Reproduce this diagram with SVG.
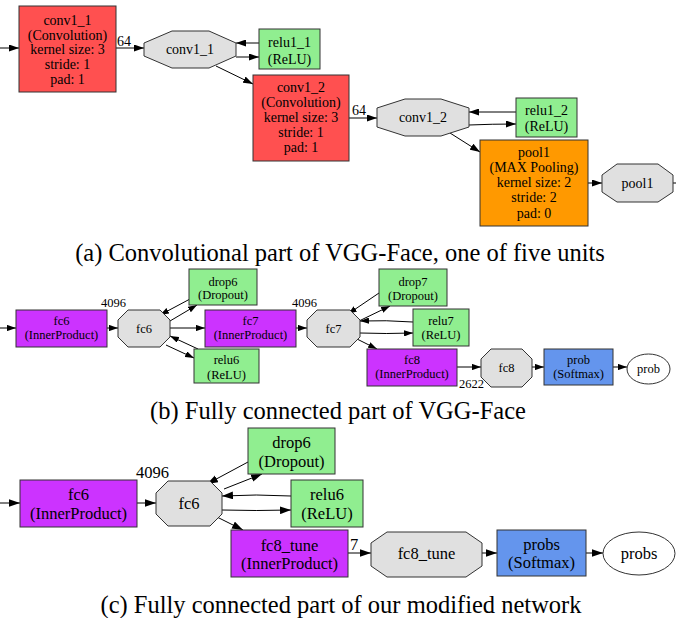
<svg xmlns="http://www.w3.org/2000/svg" width="676" height="618" viewBox="0 0 676 618" font-family="'Liberation Serif', Tinos, 'Times New Roman', Times, 'DejaVu Serif', serif">
  <style>
    text { font-family: 'Liberation Serif', Tinos, 'Times New Roman', Times, 'DejaVu Serif', serif; fill: #000; text-anchor: middle; }
    .ta { font-size: 14px; }
    .tb { font-size: 12.5px; }
    .tc { font-size: 16.5px; }
    .cap { font-size: 24.5px; }
    .lbl { text-anchor: start; }
    .node { stroke: #333; stroke-width: 1; }
    .conv { fill: #ff5050; }
    .relu { fill: #90ee90; }
    .pool { fill: #ff9900; }
    .ip { fill: #cc33ff; }
    .blob { fill: #e0e0e0; }
    .soft { fill: #6495ed; }
    .out { fill: #fff; }
    .ea line, .ea path { stroke: #000; stroke-width: 1; fill: none; marker-end: url(#ha); }
    .eb line, .eb path { stroke: #000; stroke-width: 1; fill: none; marker-end: url(#hb); }
    .ec line, .ec path { stroke: #000; stroke-width: 1; fill: none; marker-end: url(#hc); }
  </style>
  <defs>
    <marker id="ha" viewBox="0 0 10 7" refX="10" refY="3.5" markerWidth="10" markerHeight="7" orient="auto" markerUnits="userSpaceOnUse"><path d="M0,0 L10,3.5 L0,7 z" fill="#000"/></marker>
    <marker id="hb" viewBox="0 0 10 7" refX="10" refY="3.5" markerWidth="9" markerHeight="6.3" orient="auto" markerUnits="userSpaceOnUse"><path d="M0,0 L10,3.5 L0,7 z" fill="#000"/></marker>
    <marker id="hc" viewBox="0 0 10 7" refX="10" refY="3.5" markerWidth="11" markerHeight="8" orient="auto" markerUnits="userSpaceOnUse"><path d="M0,0 L10,3.5 L0,7 z" fill="#000"/></marker>
  </defs>

  <!-- (a) convolutional unit -->
  <g id="a-edges" class="ea">
    <line x1="0" y1="48" x2="19" y2="48"/>
    <line x1="116" y1="48" x2="144" y2="48"/>
    <line x1="259" y1="43" x2="236" y2="43"/>
    <line x1="236" y1="57" x2="259" y2="57"/>
    <line x1="216" y1="66" x2="253" y2="84"/>
    <line x1="349" y1="118" x2="377" y2="118"/>
    <line x1="516" y1="112" x2="469" y2="112"/>
    <path d="M469,125 Q492,124 516,124"/>
    <line x1="450" y1="133" x2="480" y2="152"/>
    <line x1="588" y1="183" x2="602" y2="183"/>
    <path d="M673,183 L676,183" style="marker-end:none"/>
  </g>
  <g id="a-edge-labels" class="ta">
    <text class="lbl" x="117" y="46">64</text>
    <text class="lbl" x="352" y="115">64</text>
  </g>
  <g id="a-conv1_1" class="ta">
    <rect class="node conv" x="19" y="6" width="97" height="86"/>
    <text x="67.5" y="25">conv1_1</text>
    <text x="67.5" y="40">(Convolution)</text>
    <text x="67.5" y="54">kernel size: 3</text>
    <text x="67.5" y="69">stride: 1</text>
    <text x="67.5" y="84">pad: 1</text>
  </g>
  <g id="a-conv1_1-blob" class="ta">
    <polygon class="node blob" points="172,31 209,31 236,43 236,56 209,68 172,68 144,56 144,43"/>
    <text x="190" y="54">conv1_1</text>
  </g>
  <g id="a-relu1_1" class="ta">
    <rect class="node relu" x="259" y="29" width="61" height="40"/>
    <text x="289.5" y="47">relu1_1</text>
    <text x="289.5" y="64">(ReLU)</text>
  </g>
  <g id="a-conv1_2" class="ta">
    <rect class="node conv" x="253" y="75" width="96" height="86"/>
    <text x="301" y="92">conv1_2</text>
    <text x="301" y="107">(Convolution)</text>
    <text x="301" y="122">kernel size: 3</text>
    <text x="301" y="137">stride: 1</text>
    <text x="301" y="152">pad: 1</text>
  </g>
  <g id="a-conv1_2-blob" class="ta">
    <polygon class="node blob" points="405,99 441,99 469,108 469,127 441,136 405,136 377,127 377,108"/>
    <text x="423" y="122">conv1_2</text>
  </g>
  <g id="a-relu1_2" class="ta">
    <rect class="node relu" x="516" y="98" width="61" height="39"/>
    <text x="546.5" y="115">relu1_2</text>
    <text x="546.5" y="131">(ReLU)</text>
  </g>
  <g id="a-pool1" class="ta">
    <rect class="node pool" x="480" y="140" width="108" height="86"/>
    <text x="534" y="157">pool1</text>
    <text x="534" y="172">(MAX Pooling)</text>
    <text x="534" y="187">kernel size: 2</text>
    <text x="534" y="202">stride: 2</text>
    <text x="534" y="218">pad: 0</text>
  </g>
  <g id="a-pool1-blob" class="ta">
    <polygon class="node blob" points="617,164 658,164 673,175 673,192 658,202 617,202 602,192 602,175"/>
    <text x="637.5" y="188">pool1</text>
  </g>
  <text class="cap" x="340" y="261">(a) Convolutional part of VGG-Face, one of five units</text>

  <!-- (b) fully connected part -->
  <g id="b-edges" class="eb">
    <line x1="0" y1="328" x2="16" y2="328"/>
    <line x1="107" y1="328" x2="118" y2="328"/>
    <line x1="190" y1="299" x2="160" y2="315"/>
    <line x1="170" y1="321" x2="197" y2="305"/>
    <line x1="170" y1="328" x2="205" y2="328"/>
    <line x1="198" y1="349" x2="170" y2="336"/>
    <line x1="166" y1="345" x2="194" y2="358"/>
    <line x1="296" y1="328" x2="307" y2="328"/>
    <line x1="379" y1="293" x2="348" y2="314"/>
    <line x1="359" y1="321" x2="390" y2="306"/>
    <path d="M413,322 Q386,320 360,321"/>
    <path d="M360,333 Q386,334 413,333"/>
    <line x1="355" y1="338" x2="377" y2="349"/>
    <line x1="457" y1="367" x2="481" y2="367"/>
    <line x1="532" y1="367" x2="544" y2="367"/>
    <line x1="613" y1="367" x2="627" y2="367"/>
  </g>
  <g id="b-edge-labels" class="tb">
    <text class="lbl" x="101" y="307">4096</text>
    <text class="lbl" x="292" y="307">4096</text>
    <text class="lbl" x="459" y="388">2622</text>
  </g>
  <g id="b-fc6" class="tb">
    <rect class="node ip" x="16" y="310" width="91" height="37"/>
    <text x="61.5" y="325">fc6</text>
    <text x="61.5" y="339">(InnerProduct)</text>
  </g>
  <g id="b-fc6-blob" class="tb">
    <polygon class="node blob" points="128,310 160,310 170,320 170,337 160,347 128,347 118,337 118,320"/>
    <text x="144" y="333">fc6</text>
  </g>
  <g id="b-drop6" class="tb">
    <rect class="node relu" x="189" y="269" width="68" height="36"/>
    <text x="223" y="286">drop6</text>
    <text x="223" y="299">(Dropout)</text>
  </g>
  <g id="b-relu6" class="tb">
    <rect class="node relu" x="194" y="349" width="65" height="34"/>
    <text x="226.5" y="364">relu6</text>
    <text x="226.5" y="379">(ReLU)</text>
  </g>
  <g id="b-fc7" class="tb">
    <rect class="node ip" x="205" y="310" width="91" height="37"/>
    <text x="250.5" y="325">fc7</text>
    <text x="250.5" y="339">(InnerProduct)</text>
  </g>
  <g id="b-fc7-blob" class="tb">
    <polygon class="node blob" points="317,310 350,310 360,320 360,337 350,347 317,347 307,337 307,320"/>
    <text x="333.5" y="333">fc7</text>
  </g>
  <g id="b-drop7" class="tb">
    <rect class="node relu" x="379" y="269" width="68" height="37"/>
    <text x="413" y="286">drop7</text>
    <text x="413" y="300">(Dropout)</text>
  </g>
  <g id="b-relu7" class="tb">
    <rect class="node relu" x="413" y="309" width="56" height="37"/>
    <text x="441" y="325">relu7</text>
    <text x="441" y="339">(ReLU)</text>
  </g>
  <g id="b-fc8" class="tb">
    <rect class="node ip" x="367" y="349" width="90" height="37"/>
    <text x="412" y="364">fc8</text>
    <text x="412" y="378">(InnerProduct)</text>
  </g>
  <g id="b-fc8-blob" class="tb">
    <polygon class="node blob" points="491,349 522,349 532,359 532,377 522,387 491,387 481,377 481,359"/>
    <text x="506.5" y="372">fc8</text>
  </g>
  <g id="b-prob" class="tb">
    <rect class="node soft" x="544" y="349" width="69" height="36"/>
    <text x="578.5" y="364">prob</text>
    <text x="578.5" y="378">(Softmax)</text>
  </g>
  <g id="b-prob-out" class="tb">
    <ellipse class="node out" cx="648.5" cy="369" rx="21.5" ry="15"/>
    <text x="648.5" y="373">prob</text>
  </g>
  <text class="cap" x="338" y="419">(b) Fully connected part of VGG-Face</text>

  <!-- (c) modified fully connected part -->
  <g id="c-edges" class="ec">
    <line x1="0" y1="503" x2="20" y2="503"/>
    <line x1="137" y1="503" x2="156" y2="503"/>
    <line x1="248" y1="462" x2="207" y2="484"/>
    <line x1="224" y1="489" x2="262" y2="474"/>
    <path d="M291,496 Q256,494 222,496"/>
    <path d="M222,510 Q256,511 291,510"/>
    <line x1="217" y1="517" x2="243" y2="530"/>
    <line x1="348" y1="553" x2="371" y2="553"/>
    <line x1="482" y1="553" x2="497" y2="553"/>
    <line x1="586" y1="553" x2="603" y2="553"/>
  </g>
  <g id="c-edge-labels" class="tc">
    <text class="lbl" x="136" y="478">4096</text>
    <text class="lbl" x="350" y="550">7</text>
  </g>
  <g id="c-fc6" class="tc">
    <rect class="node ip" x="20" y="480" width="117" height="47"/>
    <text x="78.5" y="500">fc6</text>
    <text x="78.5" y="519">(InnerProduct)</text>
  </g>
  <g id="c-fc6-blob" class="tc">
    <polygon class="node blob" points="168,481 210,481 222,493 222,514 210,526 168,526 156,514 156,493"/>
    <text x="189" y="509">fc6</text>
  </g>
  <g id="c-drop6" class="tc">
    <rect class="node relu" x="248" y="428" width="87" height="46"/>
    <text x="291.5" y="448">drop6</text>
    <text x="291.5" y="467">(Dropout)</text>
  </g>
  <g id="c-relu6" class="tc">
    <rect class="node relu" x="291" y="480" width="72" height="47"/>
    <text x="327" y="500">relu6</text>
    <text x="327" y="519">(ReLU)</text>
  </g>
  <g id="c-fc8_tune" class="tc">
    <rect class="node ip" x="231" y="530" width="117" height="47"/>
    <text x="289.5" y="551">fc8_tune</text>
    <text x="289.5" y="569">(InnerProduct)</text>
  </g>
  <g id="c-fc8_tune-blob" class="tc">
    <polygon class="node blob" points="387,532 466,532 482,543 482,566 466,577 387,577 371,566 371,543"/>
    <text x="426.5" y="559">fc8_tune</text>
  </g>
  <g id="c-probs" class="tc">
    <rect class="node soft" x="497" y="530" width="89" height="46"/>
    <text x="541.5" y="550">probs</text>
    <text x="541.5" y="568">(Softmax)</text>
  </g>
  <g id="c-probs-out" class="tc">
    <ellipse class="node out" cx="639" cy="553.5" rx="36" ry="21.5"/>
    <text x="639" y="559">probs</text>
  </g>
  <text class="cap" x="341" y="613">(c) Fully connected part of our modified network</text>
</svg>
